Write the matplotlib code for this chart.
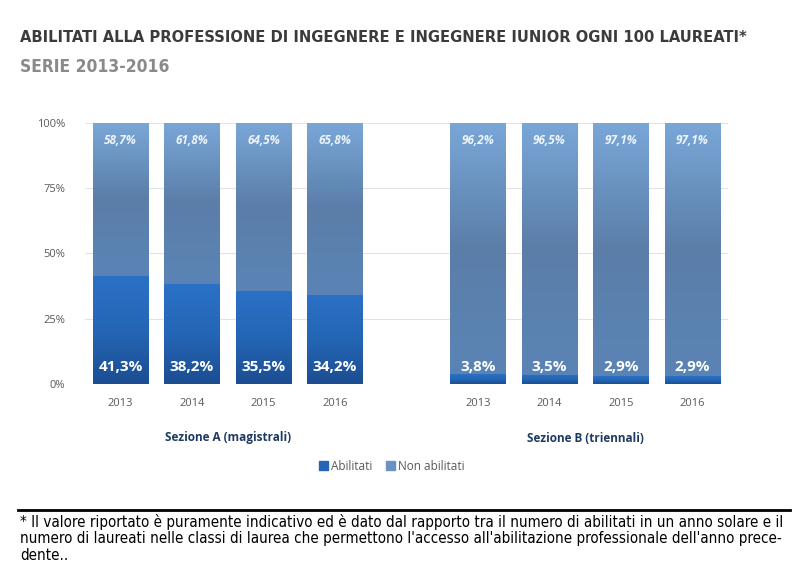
import numpy as np
import matplotlib
matplotlib.use('Agg')
import matplotlib.pyplot as plt
from matplotlib.colors import LinearSegmentedColormap
from matplotlib.patches import Patch
import matplotlib.transforms as mtransforms

# Data
years = ['2013', '2014', '2015', '2016']
sections = ['Sezione A (magistrali)', 'Sezione B (triennali)']
abil_a = [41.3, 38.2, 35.5, 34.2]
non_a = [58.7, 61.8, 64.5, 65.8]
abil_b = [3.8, 3.5, 2.9, 2.9]
non_b = [96.2, 96.5, 97.1, 97.1]

abil = abil_a + abil_b
non_abil = non_a + non_b
xpos = [0, 1, 2, 3, 5, 6, 7, 8]
xlabels = years + years

fmt = lambda v: f"{v:.1f}".replace('.', ',') + '%'

chart_font = ['Open Sans', 'DejaVu Sans']

fig = plt.figure(figsize=(8, 5.73), dpi=100)
ax = fig.add_axes([0.106, 0.3298, 0.804, 0.4562])

dark_cmap = LinearSegmentedColormap.from_list('dark', ['#1c4d92', '#2466b5', '#2b71c6'])
light_cmap = LinearSegmentedColormap.from_list('light', ['#5b84b6', '#5a7ea8', '#7aa7d8'])

w = 0.77
grad = np.linspace(0, 1, 256).reshape(-1, 1)
bars_a = ax.bar(xpos, abil, width=w, color='#2466b5', zorder=2)
bars_n = ax.bar(xpos, non_abil, bottom=abil, width=w, color='#6a93c4', zorder=2)
for b in bars_a:
    im = ax.imshow(grad, cmap=dark_cmap, origin='lower', aspect='auto',
                   extent=(b.get_x(), b.get_x() + b.get_width(), 0, b.get_height()), zorder=3)
    im.set_clip_path(b)
for b in bars_n:
    y0 = b.get_y()
    im = ax.imshow(grad, cmap=light_cmap, origin='lower', aspect='auto',
                   extent=(b.get_x(), b.get_x() + b.get_width(), y0, y0 + b.get_height()), zorder=3)
    im.set_clip_path(b)

for x, a, n in zip(xpos, abil, non_abil):
    ax.text(x, 6.5, fmt(a), ha='center', va='center', color='white', fontsize=11,
            fontweight='bold', family=chart_font, zorder=4)
    ax.text(x, 93, fmt(n), ha='center', va='center', color='#eef4fb', fontsize=8.5,
            fontstyle='italic', fontweight='bold', family=chart_font, zorder=4)

ax.set_xlim(-0.5, 8.5)
ax.set_ylim(0, 100)
ax.set_yticks([0, 25, 50, 75, 100])
ax.set_yticklabels(['0%', '25%', '50%', '75%', '100%'], family=chart_font, fontsize=8, color='#595959')
ax.set_xticks(xpos)
ax.set_xticklabels(xlabels, family=chart_font, fontsize=8, color='#595959')
ax.tick_params(length=0, pad=10)
ax.tick_params(axis='y', pad=14)
ax.grid(axis='y', color='#e3e3e3', lw=0.8, zorder=0)
for s in ax.spines.values():
    s.set_visible(False)

trans = mtransforms.blended_transform_factory(ax.transData, fig.transFigure)
ax.text(1.5, 1 - 438 / 573, sections[0], transform=trans, ha='center', va='center',
        fontsize=8.5, fontweight='bold', color='#1f3a60', family=chart_font)
ax.text(6.5, 1 - 438 / 573, sections[1], transform=trans, ha='center', va='center',
        fontsize=8.5, fontweight='bold', color='#1f3a60', family=chart_font)

handles = [Patch(color='#2466b5', label='Abilitati'), Patch(color='#6a93c4', label='Non abilitati')]
fig.legend(handles=handles, loc='center', bbox_to_anchor=(392 / 800, 1 - 466 / 573), ncol=2,
           frameon=False, handlelength=0.7, handleheight=0.7, handletextpad=0.3, columnspacing=1.2,
           prop={'family': chart_font, 'size': 8.5}, labelcolor='#595959')

fig.text(20 / 800, 1 - 38 / 573, 'ABILITATI ALLA PROFESSIONE DI INGEGNERE E INGEGNERE IUNIOR OGNI 100 LAUREATI*',
         ha='left', va='center', fontsize=11.8, fontweight='bold', fontstretch='condensed',
         color='#3b3b3b', family='DejaVu Sans')
fig.text(20 / 800, 1 - 67 / 573, 'SERIE 2013-2016', ha='left', va='center', fontsize=12.5,
         fontweight='bold', fontstretch='condensed', color='#8a8a8a', family='DejaVu Sans')

fig.add_artist(plt.Line2D([18 / 800, 790 / 800], [1 - 510 / 573] * 2, color='black', lw=2,
                          transform=fig.transFigure))
foot = ["* Il valore riportato è puramente indicativo ed è dato dal rapporto tra il numero di abilitati in un anno solare e il",
        "numero di laureati nelle classi di laurea che permettono l'accesso all'abilitazione professionale dell'anno prece-",
        "dente.."]
for i, line in enumerate(foot):
    fig.text(20 / 800, 1 - (522 + 16.5 * i) / 573, line, ha='left', va='center', fontsize=10.9,
             fontstretch='condensed', color='black', family='DejaVu Sans')

fig.savefig('out.png', dpi=100, facecolor='white')
